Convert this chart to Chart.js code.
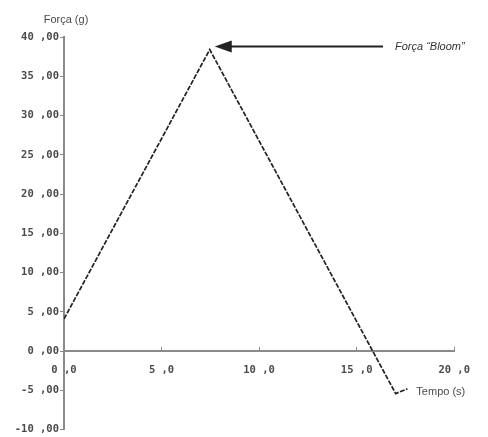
<!DOCTYPE html>
<html>
<head>
<meta charset="utf-8">
<script src="https://cdn.jsdelivr.net/npm/chart.js@4/dist/chart.umd.min.js"></script>
<style>
  html, body { margin: 0; padding: 0; background: #fff; }
  #wrap { width: 488px; height: 437px; position: relative; }
</style>
</head>
<body>
<div id="wrap"><canvas id="c" width="488" height="437"></canvas></div>
<script>
// ---- data ----
const tempo = [0, 7.47, 17.0, 17.6];
const forca = [4.1, 38.4, -5.4, -4.8];
const xTickValues = [0, 5, 10, 15, 20];
const xTickLabels = ['0 ,0', '5 ,0', '10 ,0', '15 ,0', '20 ,0'];
const yTickValues = [-10, -5, 0, 5, 10, 15, 20, 25, 30, 35, 40];
const yTickLabels = ['-10 ,00', '-5 ,00', '0 ,00', '5 ,00', '10 ,00', '15 ,00', '20 ,00', '25 ,00', '30 ,00', '35 ,00', '40 ,00'];
const yTitle = 'Força (g)';
const xTitle = 'Tempo (s)';
const annotationText = 'Força “Bloom”';

const tickFont = { family: 'DejaVu Sans Mono', size: 10.5, weight: 'bold' };
const axisColor = '#8a8a8a';
const textColor = '#4a4a4a';

const annot = {
  id: 'annot',
  afterDraw(chart) {
    const { ctx, scales: { x, y } } = chart;
    ctx.save();
    ctx.fillStyle = textColor;
    ctx.font = '11px "Liberation Sans", Arial, sans-serif';
    ctx.textBaseline = 'middle';
    ctx.textAlign = 'center';
    ctx.fillText(yTitle, 66, 20);
    ctx.textAlign = 'left';
    ctx.fillText(xTitle, x.getPixelForValue(tempo[tempo.length - 1]) + 9, y.getPixelForValue(forca[forca.length - 1]) + 3);
    const px = x.getPixelForValue(tempo[1]);
    const py = y.getPixelForValue(forca[1]);
    const tipX = px + 5, tipY = py - 3;
    ctx.strokeStyle = '#222';
    ctx.fillStyle = '#222';
    ctx.lineWidth = 2;
    ctx.beginPath();
    ctx.moveTo(tipX + 14, tipY);
    ctx.lineTo(383, tipY);
    ctx.stroke();
    ctx.beginPath();
    ctx.moveTo(tipX, tipY);
    ctx.lineTo(tipX + 17, tipY - 6);
    ctx.lineTo(tipX + 17, tipY + 6);
    ctx.closePath();
    ctx.fill();
    ctx.fillStyle = '#333';
    ctx.font = 'italic 11px "Liberation Sans", Arial, sans-serif';
    ctx.textAlign = 'left';
    ctx.fillText(annotationText, 395, tipY);
    ctx.restore();
  }
};

new Chart(document.getElementById('c'), {
  type: 'line',
  data: {
    datasets: [{
      data: tempo.map((t, i) => ({ x: t, y: forca[i] })),
      borderColor: '#222',
      borderWidth: 1.7,
      borderDash: [5, 1.5],
      pointRadius: 0,
      tension: 0,
      fill: false
    }]
  },
  options: {
    responsive: false,
    animation: false,
    layout: { padding: { top: 37, right: 33, bottom: 4, left: 0 } },
    plugins: { legend: { display: false }, tooltip: { enabled: false } },
    scales: {
      x: {
        type: 'linear',
        min: 0, max: 20,
        position: { y: 0 },
        afterBuildTicks(s) { s.ticks = xTickValues.map(v => ({ value: v })); },
        afterFit(s) { s.height = 0; },
        grid: { display: true, drawOnChartArea: false, tickLength: -5, color: axisColor, lineWidth: 1 },
        border: { display: true, color: axisColor, width: 2 },
        ticks: {
          font: tickFont, color: textColor, padding: 18, maxRotation: 0,
          callback: (v) => xTickLabels[xTickValues.indexOf(v)]
        }
      },
      y: {
        type: 'linear',
        min: -10, max: 40,
        position: 'left',
        afterBuildTicks(s) { s.ticks = yTickValues.map(v => ({ value: v })); },
        afterFit(s) { s.width = 64; },
        grid: { display: true, drawOnChartArea: false, tickLength: 4, color: axisColor, lineWidth: 1 },
        border: { display: true, color: axisColor, width: 2 },
        ticks: {
          font: tickFont, color: textColor, padding: 1,
          callback: (v) => yTickLabels[yTickValues.indexOf(v)]
        }
      }
    }
  },
  plugins: [annot]
});
</script>
</body>
</html>
